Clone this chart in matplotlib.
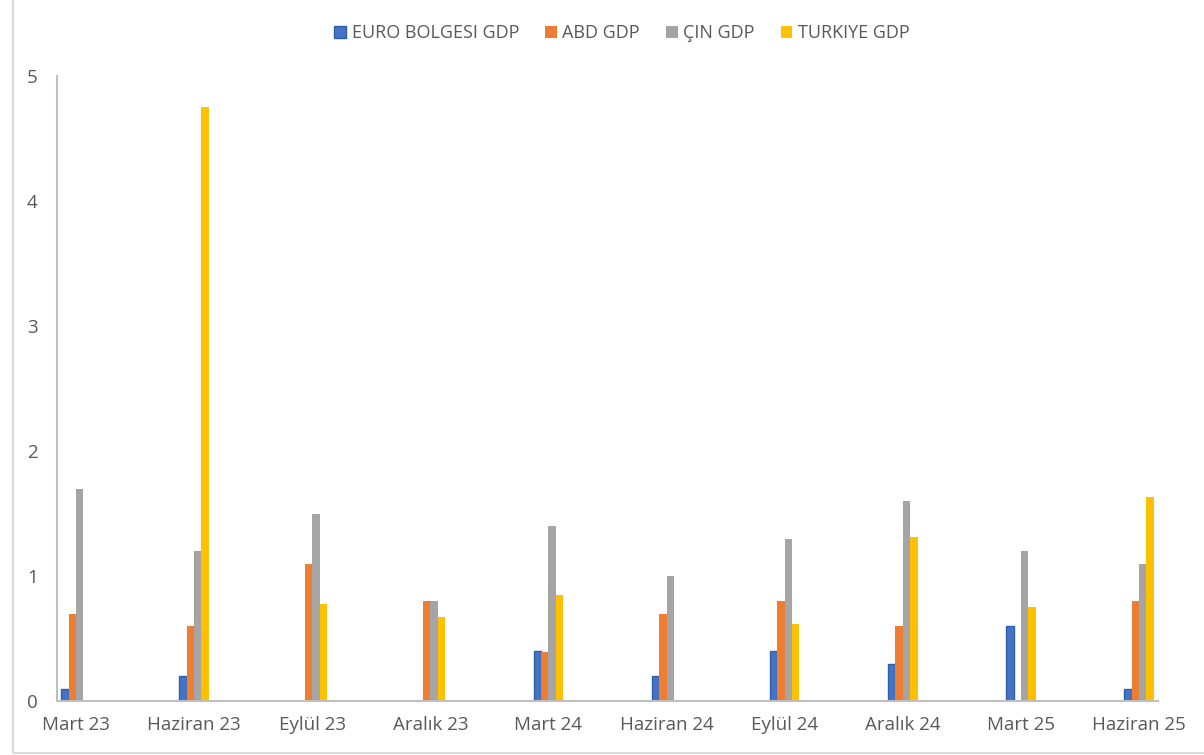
import numpy as np
import matplotlib.pyplot as plt
from matplotlib.patches import Rectangle

# Ceyreklik GDP degerleri
donemler = ['Mart 23', 'Haziran 23', 'Eylül 23', 'Aralık 23', 'Mart 24',
            'Haziran 24', 'Eylül 24', 'Aralık 24', 'Mart 25', 'Haziran 25']
euro_gdp = [0.1, 0.2, 0.0, 0.0, 0.4, 0.2, 0.4, 0.3, 0.6, 0.1]
abd_gdp = [0.7, 0.6, 1.1, 0.8, 0.39, 0.7, 0.8, 0.6, 0.0, 0.8]
cin_gdp = [1.7, 1.2, 1.5, 0.8, 1.4, 1.0, 1.3, 1.6, 1.2, 1.1]
turkiye_gdp = [0.0, 4.75, 0.78, 0.67, 0.85, 0.0, 0.62, 1.31, 0.75, 1.63]

seriler = ['EURO BOLGESI GDP', 'ABD GDP', 'ÇIN GDP', 'TURKIYE GDP']
renkler = ['#4472C4', '#ED7D31', '#A5A5A5', '#FFC000']
kenarlar = ['#2E5FA8', '#ED7D31', '#A5A5A5', '#FFC000']

plt.rcParams['font.family'] = ['Open Sans', 'DejaVu Sans']
yazi_rengi = '#595959'

fig = plt.figure(figsize=(12.04, 7.55), dpi=100)
ax = fig.add_axes([57 / 1204, 1 - 701 / 755, (1158 - 57) / 1204, (701 - 76) / 755])

x = np.arange(len(donemler))
w = 0.0625
degerler = [euro_gdp, abd_gdp, cin_gdp, turkiye_gdp]
for i, (ad, vals) in enumerate(zip(seriler, degerler)):
    ax.bar(x + (i - 1.5) * w, vals, w, color=renkler[i], edgecolor=kenarlar[i],
           linewidth=1.0 if i == 0 else 0, label=ad)

ax.set_xlim(-0.16, 9.16)
ax.set_ylim(0, 5)
ax.set_xticks(x)
ax.set_xticklabels(donemler)
ax.set_yticks(range(6))
ax.tick_params(length=0, labelsize=13.5, colors=yazi_rengi)
ax.tick_params(axis='x', pad=11)
ax.tick_params(axis='y', pad=14)
for s in ['top', 'right']:
    ax.spines[s].set_visible(False)
for s in ['left', 'bottom']:
    ax.spines[s].set_color('#BFBFBF')
    ax.spines[s].set_linewidth(1.5)

ax.legend(loc='center', bbox_to_anchor=(622 / 1204, 1 - 33 / 755), bbox_transform=fig.transFigure,
          ncol=4, frameon=False, fontsize=13, labelcolor=yazi_rengi,
          handlelength=0.65, handleheight=0.65, handletextpad=0.3, columnspacing=1.45)

# grafik alani cercevesi
fig.patches.append(Rectangle((13 / 1204, 2 / 755), 1.1, 1.1, transform=fig.transFigure,
                             fill=False, edgecolor='#D9D9D9', linewidth=1.5))

fig.savefig('out.png', dpi=100)
